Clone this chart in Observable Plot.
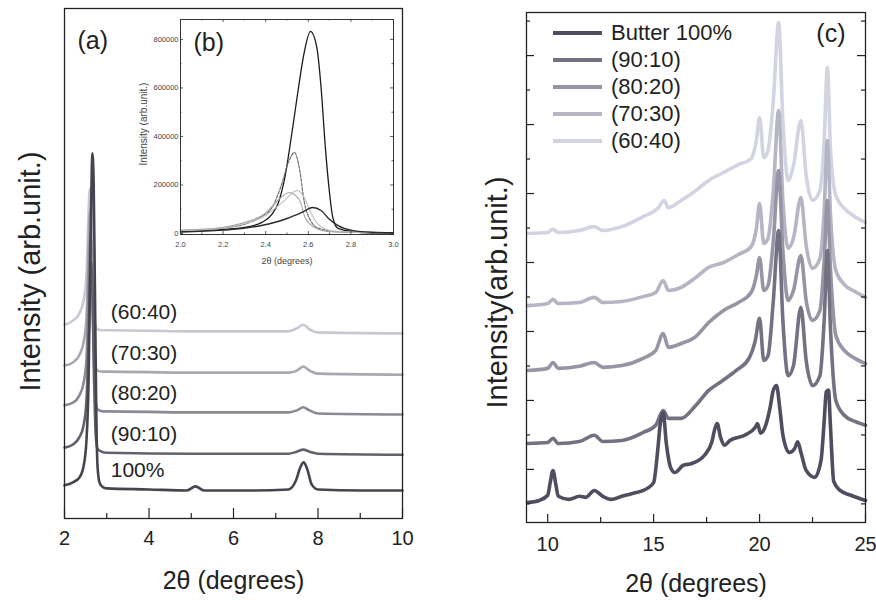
<!DOCTYPE html>
<html><head><meta charset="utf-8">
<script src="https://cdn.jsdelivr.net/npm/d3@7"></script>
<script src="https://cdn.jsdelivr.net/npm/@observablehq/plot@0.6"></script>
<style>
html,body{margin:0;padding:0;background:#fff;}
#wrap{position:relative;width:876px;height:600px;overflow:hidden;font-family:"Liberation Sans",Arial,Helvetica,sans-serif;color:#222;}
.legend{position:absolute;left:553px;top:19px;font-size:22px;color:#222;}
.legend .row{display:flex;align-items:center;height:27.2px;white-space:nowrap;}
.legend .sw{width:49px;height:4px;margin-right:9px;}
</style></head><body><div id="wrap"></div><script>
// ---------- Panel (a): 2θ 2–10°, intensity (arb. units, offset curves) ----------
const namesA = ["100%", "(90:10)", "(80:20)", "(70:30)", "(60:40)"];
const colorsA = ["#45454f", "#62626e", "#8a8a97", "#a8a8b5", "#c8c8d5"];
const a100 = [[2.00,6.5],[2.20,7.1],[2.35,8.0],[2.45,10.2],[2.52,15.3],[2.57,27.1],[2.61,50.6],[2.64,66.0],[2.66,71.6],[2.69,66.0],[2.72,45.0],[2.75,22.0],[2.78,10.5],[2.83,7.0],[2.90,6.2],[3.00,5.9],[4.00,5.7],[4.90,5.5],[5.10,6.3],[5.30,5.5],[6.50,5.5],[7.30,5.7],[7.48,7.5],[7.58,10.0],[7.66,11.0],[7.74,9.8],[7.85,6.7],[8.00,5.7],[9.00,5.5],[10.0,5.5]];
const a90 = [[2.00,13.9],[2.20,14.5],[2.35,15.9],[2.45,18.2],[2.52,23.1],[2.57,34.9],[2.61,47.6],[2.63,50.2],[2.66,44.7],[2.70,27.1],[2.74,16.3],[2.78,13.7],[2.88,13.1],[3.00,12.9],[5.00,12.7],[7.30,12.7],[7.50,13.1],[7.65,13.5],[7.80,13.1],[8.00,12.7],[10.0,12.5]];
const a80 = [[2.00,22.2],[2.20,22.7],[2.35,24.1],[2.45,26.5],[2.52,31.0],[2.56,42.7],[2.60,53.5],[2.62,55.5],[2.65,49.6],[2.69,32.9],[2.73,23.5],[2.78,21.4],[2.90,21.0],[3.00,21.0],[5.00,20.8],[7.30,20.8],[7.50,21.2],[7.65,21.8],[7.80,21.2],[8.00,20.6],[10.0,20.4]];
const a70 = [[2.00,30.0],[2.20,30.6],[2.35,32.0],[2.45,34.5],[2.52,39.2],[2.56,50.6],[2.59,58.8],[2.61,60.4],[2.64,54.5],[2.68,38.8],[2.72,30.6],[2.78,29.0],[2.90,28.8],[3.00,28.8],[5.00,28.6],[7.30,28.6],[7.50,29.0],[7.65,29.8],[7.80,29.0],[8.00,28.4],[10.0,28.2]];
const a60 = [[2.00,38.0],[2.20,38.8],[2.35,40.2],[2.45,42.7],[2.52,47.6],[2.56,57.5],[2.59,63.9],[2.61,64.7],[2.64,59.4],[2.68,45.7],[2.72,38.4],[2.78,37.1],[2.90,36.9],[3.00,36.9],[5.00,36.7],[7.30,36.7],[7.50,37.3],[7.65,38.0],[7.80,37.1],[8.00,36.5],[10.0,36.3]];
const majorTicksA = [2, 4, 6, 8, 10];
const minorTicksA = [3, 5, 7, 9];

// ---------- Panel (b) inset: 2θ 2.0–3.0°, intensity ----------
const b0 = [[2.0,8000],[2.15,14000],[2.3,25000],[2.38,45000],[2.43,80000],[2.46,128000],[2.49,231000],[2.52,396000],[2.55,577000],[2.58,742000],[2.61,833000],[2.64,767000],[2.66,602000],[2.68,355000],[2.70,165000],[2.715,66000],[2.74,21000],[2.85,4000],[3.0,2000]];
const b1 = [[2.0,12000],[2.2,22000],[2.3,38000],[2.38,70000],[2.43,107000],[2.47,190000],[2.51,301000],[2.535,334000],[2.56,260000],[2.58,136000],[2.61,54000],[2.65,21000],[2.75,7000],[3.0,3000]];
const b2 = [[2.0,14000],[2.2,26000],[2.3,45000],[2.4,85000],[2.45,130000],[2.51,169000],[2.56,136000],[2.585,66000],[2.63,25000],[2.7,8000],[3.0,3000]];
const b3 = [[2.0,12000],[2.2,22000],[2.3,40000],[2.4,75000],[2.48,130000],[2.55,177000],[2.58,150000],[2.61,90000],[2.65,35000],[2.72,10000],[3.0,3000]];
const b4 = [[2.0,6000],[2.2,14000],[2.38,33000],[2.5,62000],[2.57,87000],[2.62,107000],[2.66,95000],[2.695,62000],[2.74,33000],[2.81,12000],[2.9,5000],[3.0,3000]];
const ticksBX = [2.0, 2.2, 2.4, 2.6, 2.8, 3.0];
const minorBX = [2.1, 2.3, 2.5, 2.7, 2.9];
const ticksBY = [0, 200000, 400000, 600000, 800000];
const minorBY = [100000, 300000, 500000, 700000];

// ---------- Panel (c): 2θ 9–25°, intensity (offset curves) ----------
const namesC = ["Butter 100%", "(90:10)", "(80:20)", "(70:30)", "(60:40)"];
const colorsC = ["#4e4e60", "#727282", "#9595a6", "#b5b5c5", "#d3d4e2"];
const c100 = [[9.05,0.04],[9.6,0.10],[10.0,0.25],[10.12,0.62],[10.25,0.97],[10.38,0.58],[10.5,0.22],[11.0,0.13],[11.5,0.22],[11.8,0.19],[12.2,0.39],[12.6,0.22],[13.0,0.13],[13.5,0.22],[14.0,0.30],[14.7,0.45],[15.0,0.62],[15.2,1.60],[15.3,2.25],[15.45,2.65],[15.6,1.75],[15.8,1.06],[16.0,0.91],[16.4,1.12],[16.8,1.17],[17.4,1.41],[17.75,1.80],[17.9,2.20],[18.0,2.33],[18.15,1.95],[18.35,1.70],[18.6,1.84],[19.3,1.99],[19.8,2.22],[19.9,2.33],[20.05,2.05],[20.3,2.30],[20.5,2.80],[20.65,3.30],[20.8,3.43],[20.95,2.80],[21.1,2.00],[21.4,1.49],[21.65,1.60],[21.8,1.80],[21.95,1.50],[22.2,0.97],[22.6,0.77],[22.9,1.26],[23.05,2.40],[23.15,3.25],[23.25,3.30],[23.35,2.20],[23.5,0.65],[23.8,0.39],[24.3,0.25],[25.0,0.10]];
const c90 = [[9.05,1.75],[10.0,1.78],[10.25,1.90],[10.5,1.75],[11.5,1.81],[12.2,1.99],[12.6,1.81],[13.5,1.84],[14.5,2.07],[15.1,2.28],[15.45,2.71],[15.7,2.48],[16.3,2.48],[17.0,2.86],[17.6,3.29],[18.2,3.55],[18.9,3.87],[19.5,4.22],[19.8,4.74],[20.0,5.38],[20.2,4.16],[20.4,4.30],[20.65,5.90],[20.9,7.93],[21.1,5.32],[21.35,3.72],[21.6,4.01],[21.95,5.70],[22.2,4.16],[22.5,3.43],[22.85,3.72],[23.05,5.32],[23.2,7.35],[23.35,5.03],[23.6,3.00],[24.0,2.57],[24.5,2.39],[25.0,2.28]];
const c80 = [[9.05,3.87],[10.0,3.93],[10.25,4.10],[10.5,3.93],[11.5,3.99],[12.2,4.10],[12.6,3.96],[13.5,4.01],[14.5,4.22],[15.1,4.45],[15.45,4.94],[15.7,4.54],[16.3,4.65],[17.0,4.86],[17.6,5.26],[18.3,5.61],[19.0,5.84],[19.6,6.13],[19.85,6.62],[20.0,7.14],[20.2,6.19],[20.4,6.33],[20.65,7.64],[20.9,9.67],[21.1,7.35],[21.35,5.90],[21.6,6.19],[21.95,7.20],[22.2,5.90],[22.5,5.32],[22.85,5.61],[23.05,7.06],[23.2,8.80],[23.35,6.77],[23.6,4.88],[24.0,4.45],[24.5,4.22],[25.0,4.07]];
const c70 = [[9.05,5.75],[10.0,5.81],[10.25,5.93],[10.5,5.81],[11.5,5.84],[12.2,5.99],[12.6,5.84],[13.5,5.87],[14.5,6.01],[15.1,6.13],[15.45,6.48],[15.7,6.19],[16.3,6.28],[17.0,6.57],[17.6,6.86],[18.3,7.00],[19.0,7.23],[19.6,7.46],[19.85,7.99],[20.0,8.71],[20.2,7.55],[20.4,7.70],[20.65,9.09],[20.9,11.41],[21.1,8.80],[21.35,7.41],[21.6,7.70],[21.95,8.88],[22.2,7.49],[22.5,6.83],[22.85,7.12],[23.05,8.51],[23.2,10.54],[23.35,8.36],[23.6,6.77],[24.0,6.36],[24.5,6.16],[25.0,5.99]];
const c60 = [[9.05,7.84],[10.0,7.87],[10.25,7.96],[10.5,7.87],[11.5,7.93],[12.2,8.04],[12.6,7.93],[13.5,8.04],[14.5,8.33],[15.2,8.57],[15.5,8.80],[15.7,8.59],[16.3,8.80],[17.0,9.09],[17.6,9.38],[18.3,9.61],[19.0,9.84],[19.6,10.01],[19.85,10.54],[20.0,11.20],[20.2,10.04],[20.4,10.25],[20.65,11.70],[20.9,13.96],[21.1,11.12],[21.35,9.38],[21.6,9.81],[21.95,11.12],[22.2,9.52],[22.5,8.80],[22.85,9.09],[23.05,10.54],[23.2,12.65],[23.35,10.25],[23.6,8.94],[24.0,8.57],[24.5,8.33],[25.0,8.16]];
const majorTicksC = [10, 15, 20, 25];
const minorTicksC = [12.5, 17.5, 22.5];
const longTicksCY = [1, 3, 5, 7, 9, 11, 13];
const shortTicksCY = [0, 2, 4, 6, 8, 10, 12, 14];

// ---------- rendering ----------
const FONT = '"Liberation Sans", Arial, Helvetica, sans-serif';
const wrap = document.getElementById("wrap");
function place(el, left, top) {
  el.style.position = "absolute";
  el.style.left = left + "px";
  el.style.top = top + "px";
  wrap.appendChild(el);
}
const baseStyle = {fontFamily: FONT, background: "transparent", color: "#222", overflow: "visible"};
const toRows = arr => arr.map(([x, y]) => ({x, y}));

// Panel (a)
{
  const W = 430, H = 600, ml = 64, mr = 28, mt = 8, mb = 82;
  const fh = H - mt - mb;
  const series = [a100, a90, a80, a70, a60];
  const lines = series.map((s, i) => Plot.line(toRows(s), {x: "x", y: "y", stroke: colorsA[i], strokeWidth: 2.6, curve: "monotone-x"})).reverse();
  const labels = series.map((s, i) => {
    const p = s.find(d => d[0] === 3);
    return {x: p[0], y: p[1], name: namesA[i]};
  });
  const svg = Plot.plot({
    width: W, height: H, marginLeft: ml, marginRight: mr, marginTop: mt, marginBottom: mb,
    x: {domain: [2, 10]}, y: {domain: [0, 100], axis: null},
    style: baseStyle,
    marks: [
      ...lines,
      Plot.ruleX(majorTicksA, {insetTop: fh - 10, stroke: "#222", strokeWidth: 1.2}),
      Plot.ruleX(minorTicksA, {insetTop: fh - 5, stroke: "#222", strokeWidth: 1.2}),
      Plot.frame({stroke: "#222", strokeWidth: 1.3}),
      Plot.axisX({ticks: majorTicksA, tickSize: 0, tickPadding: 12, fontSize: 20, label: null, tickFormat: d => String(d)}),
      Plot.text(labels, {x: "x", y: "y", text: "name", dx: 4, dy: -18, textAnchor: "start", lineAnchor: "middle", fontSize: 21, fill: "#222"}),
      Plot.text(["(a)"], {frameAnchor: "top-left", dx: 13, dy: 32, text: d => d, textAnchor: "start", lineAnchor: "middle", fontSize: 25, fill: "#222"}),
      Plot.text(["2θ (degrees)"], {frameAnchor: "bottom", dy: 62, text: d => d, textAnchor: "middle", lineAnchor: "middle", fontSize: 25, fill: "#222"}),
      Plot.text(["Intensity (arb.unit.)"], {frameAnchor: "left", dx: -34, dy: 8, rotate: -90, text: d => d, textAnchor: "middle", lineAnchor: "middle", fontSize: 29, fill: "#222"})
    ]
  });
  place(svg, 0, 0);
}

// Panel (b) inset
{
  const W = 290, H = 280, ml = 60, mr = 17, mt = 19, mb = 46;
  const fh = H - mt - mb, fw = W - ml - mr;
  const styles = [
    {stroke: "#1c1c1c", strokeWidth: 1.3},
    {stroke: "#6e6e6e", strokeWidth: 1.2, strokeDasharray: "3,1.5"},
    {stroke: "#a6a6a6", strokeWidth: 1.1},
    {stroke: "#bcbcbc", strokeWidth: 1.2, strokeDasharray: "1.2,1.2"},
    {stroke: "#2a2a2a", strokeWidth: 1.4}
  ];
  const series = [b0, b1, b2, b3, b4];
  const lines = series.map((s, i) => Plot.line(toRows(s), {x: "x", y: "y", curve: "monotone-x", ...styles[i]}));
  const tk = {stroke: "#333", strokeWidth: 0.8};
  const svg = Plot.plot({
    width: W, height: H, marginLeft: ml, marginRight: mr, marginTop: mt, marginBottom: mb,
    x: {domain: [2, 3]}, y: {domain: [-4000, 882000], axis: null},
    style: baseStyle,
    marks: [
      ...lines,
      Plot.ruleX(ticksBX, {insetTop: fh - 3, ...tk}),
      Plot.ruleX(ticksBX, {insetBottom: fh - 3, ...tk}),
      Plot.ruleX(minorBX, {insetTop: fh - 1.5, ...tk}),
      Plot.ruleX(minorBX, {insetBottom: fh - 1.5, ...tk}),
      Plot.ruleY(ticksBY, {insetRight: fw - 3, ...tk}),
      Plot.ruleY(ticksBY, {insetLeft: fw - 3, ...tk}),
      Plot.ruleY(minorBY, {insetRight: fw - 1.5, ...tk}),
      Plot.ruleY(minorBY, {insetLeft: fw - 1.5, ...tk}),
      Plot.frame({stroke: "#333", strokeWidth: 1}),
      Plot.axisX({ticks: ticksBX, tickSize: 0, tickPadding: 7, fontSize: 7.5, label: null, tickFormat: d3.format(".1f"), fill: "#444"}),
      Plot.axisY({ticks: ticksBY, tickSize: 0, tickPadding: 2, fontSize: 7.5, label: null, tickFormat: d3.format("d"), fill: "#444"}),
      Plot.text(["(b)"], {frameAnchor: "top-left", dx: 13, dy: 23, text: d => d, textAnchor: "start", lineAnchor: "middle", fontSize: 25, fill: "#222"}),
      Plot.text(["2θ (degrees)"], {frameAnchor: "bottom", dy: 27, text: d => d, textAnchor: "middle", lineAnchor: "middle", fontSize: 9, fill: "#444"}),
      Plot.text(["Intensity (arb.unit.)"], {frameAnchor: "left", dx: -37, dy: -3, rotate: -90, text: d => d, textAnchor: "middle", lineAnchor: "middle", fontSize: 10, fill: "#444"})
    ]
  });
  place(svg, 120, 0);
}

// Panel (c)
{
  const W = 436, H = 600, ml = 86, mr = 11, mt = 12, mb = 78;
  const fh = H - mt - mb, fw = W - ml - mr;
  const series = [c100, c90, c80, c70, c60];
  const lines = series.map((s, i) => Plot.line(toRows(s), {x: "x", y: "y", stroke: colorsC[i], strokeWidth: 3.6, curve: "monotone-x"})).reverse();
  const tk = {stroke: "#222", strokeWidth: 1.2};
  const svg = Plot.plot({
    width: W, height: H, marginLeft: ml, marginRight: mr, marginTop: mt, marginBottom: mb,
    x: {domain: [9, 25]}, y: {domain: [-0.54, 14.25], axis: null},
    style: baseStyle,
    marks: [
      ...lines,
      Plot.ruleX(majorTicksC, {insetTop: fh - 8, ...tk}),
      Plot.ruleX(minorTicksC, {insetTop: fh - 5, ...tk}),
      Plot.ruleY(longTicksCY, {insetRight: fw - 8, ...tk}),
      Plot.ruleY(shortTicksCY, {insetRight: fw - 4, ...tk}),
      Plot.ruleY(longTicksCY, {insetLeft: fw - 8, ...tk}),
      Plot.ruleY(shortTicksCY, {insetLeft: fw - 4, ...tk}),
      Plot.frame({stroke: "#222", strokeWidth: 1.3}),
      Plot.axisX({ticks: majorTicksC, tickSize: 0, tickPadding: 14, fontSize: 20, label: null, tickFormat: d => String(d)}),
      Plot.text(["(c)"], {frameAnchor: "top-right", dx: -20, dy: 21, text: d => d, textAnchor: "end", lineAnchor: "middle", fontSize: 25, fill: "#222"}),
      Plot.text(["2θ (degrees)"], {frameAnchor: "bottom", dy: 61, text: d => d, textAnchor: "middle", lineAnchor: "middle", fontSize: 25, fill: "#222"}),
      Plot.text(["Intensity(arb.unit.)"], {frameAnchor: "left", dx: -29, dy: 25, rotate: -90, text: d => d, textAnchor: "middle", lineAnchor: "middle", fontSize: 29, fill: "#222"})
    ]
  });
  place(svg, 440, 0);

  const legend = document.createElement("div");
  legend.className = "legend";
  namesC.forEach((n, i) => {
    const row = document.createElement("div");
    row.className = "row";
    const sw = document.createElement("span");
    sw.className = "sw";
    sw.style.background = colorsC[i];
    const t = document.createElement("span");
    t.textContent = n;
    row.appendChild(sw);
    row.appendChild(t);
    legend.appendChild(row);
  });
  wrap.appendChild(legend);
}
</script></body></html>
